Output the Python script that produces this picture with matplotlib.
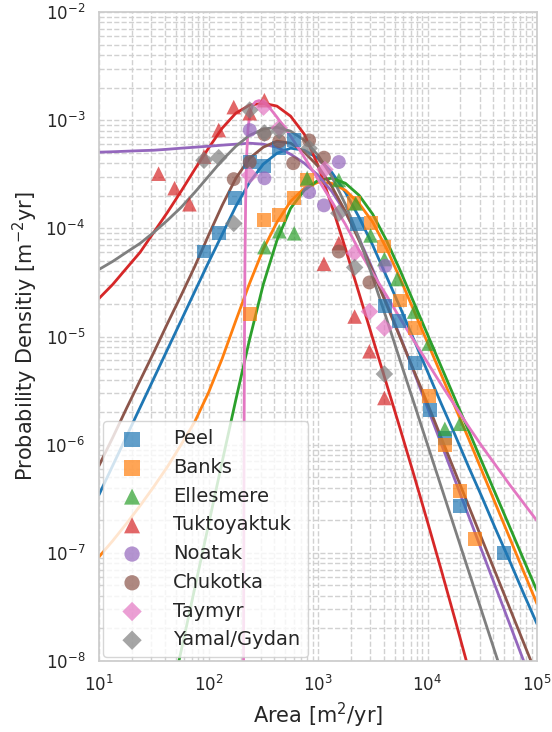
import numpy as np
import matplotlib
matplotlib.use("Agg")
import matplotlib.pyplot as plt
import seaborn as sns

sns.set_style("whitegrid")
plt.rcParams['font.family'] = ['DejaVu Sans']

regions = ["Peel", "Banks", "Ellesmere", "Tuktoyaktuk", "Noatak", "Chukotka", "Taymyr", "Yamal/Gydan"]
markers = ["s", "s", "^", "^", "o", "o", "D", "D"]
colors = ["#1f77b4", "#ff7f0e", "#2ca02c", "#d62728", "#9467bd", "#8c564b", "#e377c2", "#7f7f7f"]
sizes = {"s": 100, "^": 110, "o": 100, "D": 80}

# observed densities: area [m^2/yr], density [m^-2 yr]
peel_area = [91, 124, 174, 238, 324, 443, 600, 2250, 4120, 5520, 7700, 10500, 14400, 19700, 50300]
peel_dens = [6.1e-5, 9.0e-5, 1.9e-4, 4.1e-4, 3.8e-4, 5.5e-4, 6.5e-4, 1.1e-4, 1.9e-5, 1.4e-5,
             5.7e-6, 2.1e-6, 1.16e-6, 2.7e-7, 1.0e-7]
banks_area = [238, 324, 443, 606, 795, 2120, 3020, 4040, 5640, 7700, 10300, 14400, 19700, 26900]
banks_dens = [1.6e-5, 1.19e-4, 1.32e-4, 1.9e-4, 2.8e-4, 1.7e-4, 1.11e-4, 6.8e-5, 2.15e-5,
              1.19e-5, 2.8e-6, 1.0e-6, 3.7e-7, 1.35e-7]
ellesmere_area = [324, 443, 606, 795, 1550, 2210, 3020, 4040, 5290, 7550, 10300, 14400, 19700]
ellesmere_dens = [6.7e-5, 9.4e-5, 9.0e-5, 2.9e-4, 2.8e-4, 1.7e-4, 8.6e-5, 5.2e-5, 3.4e-5,
                  1.7e-5, 8.6e-6, 1.4e-6, 1.56e-6]
tuk_area = [35, 49, 67, 91, 124, 170, 238, 324, 1133, 1550, 2160, 2950, 4040]
tuk_dens = [3.2e-4, 2.35e-4, 1.67e-4, 4.6e-4, 8.1e-4, 1.32e-3, 1.16e-3, 1.53e-3, 4.7e-5,
            7.3e-5, 1.53e-5, 7.3e-6, 2.7e-6]
noatak_area = [238, 324, 830, 1133, 1550, 4120]
noatak_dens = [8.1e-4, 2.9e-4, 2.16e-4, 1.63e-4, 4.1e-4, 4.5e-5]
chukotka_area = [170, 238, 324, 443, 594, 830, 1133, 1550, 2950]
chukotka_dens = [2.85e-4, 4.1e-4, 7.4e-4, 6.4e-4, 4.0e-4, 6.5e-4, 4.5e-4, 6.1e-5, 3.16e-5]
taymyr_area = [238, 318, 443, 1156, 2160, 2950, 4040]
taymyr_dens = [3.1e-4, 1.32e-3, 8.5e-4, 3.5e-4, 5.9e-5, 1.7e-5, 1.2e-5]
yamal_area = [91, 124, 170, 238, 324, 443, 830, 1550, 2160, 4040]
yamal_dens = [4.26e-4, 4.5e-4, 1.11e-4, 1.24e-3, 7.6e-4, 8.0e-4, 5.5e-4, 1.38e-4, 4.35e-5, 4.5e-6]

fit_logA = [1.0, 1.125, 1.25, 1.375, 1.5, 1.625, 1.75, 1.875, 2.0, 2.125, 2.25, 2.375, 2.5,
            2.625, 2.75, 2.875, 3.0, 3.125, 3.25, 3.375, 3.5, 3.625, 3.75, 3.875, 4.0,
            4.125, 4.25, 4.375, 4.5, 4.625, 4.75, 4.875, 5.0]
peel_fit = [-6.463, -6.194, -5.926, -5.657, -5.389, -5.120, -4.852, -4.583, -4.315, -4.056,
            -3.796, -3.574, -3.407, -3.306, -3.259, -3.278, -3.352, -3.481, -3.667, -3.898,
            -4.157, -4.444, -4.731, -5.028, -5.324, -5.620, -5.907, -6.204, -6.491, -6.787,
            -7.074, -7.370, -7.657]
banks_fit = [-7.037, -6.889, -6.731, -6.565, -6.389, -6.204, -6.0, -5.787, -5.519, -5.204,
             -4.852, -4.509, -4.194, -3.944, -3.75, -3.630, -3.574, -3.583, -3.648, -3.769,
             -3.944, -4.185, -4.463, -4.759, -5.056, -5.352, -5.648, -5.944, -6.25, -6.556,
             -6.861, -7.167, -7.472]
ellesmere_fit = [-8.481, -7.907, -7.324, -6.741, -6.157, -5.583, -5.028, -4.519, -4.111,
                 -3.815, -3.648, -3.556, -3.537, -3.583, -3.694, -3.870, -4.111, -4.389,
                 -4.685, -4.981, -5.278, -5.574, -5.870, -6.167, -6.463, -6.759, -7.056, -7.352]
tuk_fit = [-4.648, -4.519, -4.370, -4.222, -4.037, -3.852, -3.657, -3.454, -3.259, -3.074,
           -2.935, -2.861, -2.843, -2.870, -2.963, -3.130, -3.417, -3.787, -4.185, -4.602,
           -5.019, -5.435, -5.852, -6.278, -6.713, -7.157, -7.611, -8.074]
noatak_fit = [-3.296, -3.292, -3.287, -3.282, -3.278, -3.269, -3.259, -3.25, -3.241, -3.231,
              -3.222, -3.213, -3.222, -3.25, -3.315, -3.398, -3.509, -3.657, -3.852, -4.093,
              -4.380, -4.685, -5.0, -5.324, -5.657, -5.991, -6.324, -6.657, -6.991, -7.324,
              -7.657, -7.991, -8.324]
chukotka_fit = [-6.194, -5.935, -5.667, -5.407, -5.148, -4.880, -4.620, -4.352, -4.065, -3.787,
                -3.537, -3.352, -3.25, -3.194, -3.213, -3.296, -3.426, -3.611, -3.843, -4.111,
                -4.398, -4.704, -5.009, -5.315, -5.620, -5.935, -6.250, -6.565, -6.880, -7.194,
                -7.509, -7.824, -8.139]
taymyr_fit_logA = [2.3195, 2.3222, 2.3249, 2.3285, 2.3330, 2.3394, 2.3484, 2.3620, 2.3801,
                   2.4027, 2.4299, 2.4615, 2.4932, 2.5385, 2.625, 2.75, 2.875, 3.0, 3.125,
                   3.25, 3.375, 3.5, 3.625, 3.75, 3.875, 4.0, 4.125, 4.25, 4.375, 4.5,
                   4.625, 4.75, 4.875, 5.0]
taymyr_fit = [-8.370, -7.074, -5.963, -5.037, -4.296, -3.741, -3.324, -3.065, -2.935, -2.861,
              -2.829, -2.819, -2.829, -2.861, -2.972, -3.148, -3.343, -3.546, -3.75, -3.963,
              -4.204, -4.417, -4.620, -4.833, -5.037, -5.241, -5.444, -5.639, -5.833, -6.019,
              -6.194, -6.370, -6.537, -6.704]
yamal_fit = [-4.380, -4.306, -4.222, -4.139, -4.037, -3.926, -3.806, -3.667, -3.519, -3.370,
             -3.241, -3.139, -3.083, -3.065, -3.102, -3.185, -3.324, -3.519, -3.778, -4.093,
             -4.454, -4.833, -5.222, -5.611, -6.0, -6.389, -6.778, -7.167, -7.556, -7.944,
             -8.333]

points = [(peel_area, peel_dens), (banks_area, banks_dens), (ellesmere_area, ellesmere_dens),
          (tuk_area, tuk_dens), (noatak_area, noatak_dens), (chukotka_area, chukotka_dens),
          (taymyr_area, taymyr_dens), (yamal_area, yamal_dens)]
fits = [(fit_logA, peel_fit), (fit_logA, banks_fit), (fit_logA[5:], ellesmere_fit),
        (fit_logA[:28], tuk_fit), (fit_logA, noatak_fit), (fit_logA, chukotka_fit),
        (taymyr_fit_logA, taymyr_fit), (fit_logA[:31], yamal_fit)]

fig = plt.figure(figsize=(5.52, 7.32), dpi=100)
ax = fig.add_axes([99 / 552, 1 - 661 / 732, 438 / 552, 649 / 732])

handles = []
for name, m, c, (a, d), (fx, fy) in zip(regions, markers, colors, points, fits):
    ax.plot(10 ** np.array(fx), 10 ** np.array(fy), color=c, lw=2, zorder=2)
    h = ax.scatter(a, d, marker=m, color=c, s=sizes[m], alpha=0.7,
                   edgecolor="none", zorder=3, label=name)
    handles.append(h)

ax.set_xscale("log")
ax.set_yscale("log")
ax.set_xlim(1e1, 1e5)
ax.set_ylim(1e-8, 1e-2)
ax.grid(True, which="both", ls="--", color=".82", lw=1)
ax.tick_params(axis="both", which="both", length=0, labelsize=12, pad=10)
ax.xaxis.get_offset_text().set_visible(False)
ax.yaxis.get_offset_text().set_visible(False)
for s in ax.spines.values():
    s.set_color(".8")
    s.set_linewidth(1.25)

ax.set_xlabel("Area [m$^2$/yr]", fontsize=15, labelpad=4)
ax.set_ylabel("Probability Densitiy [m$^{-2}$yr]", fontsize=15)
ax.legend(handles=handles, loc="lower left", fontsize=14, borderaxespad=0.2,
          framealpha=0.8, edgecolor=".8", markerscale=1.1,
          handlelength=2.2, handletextpad=1.0)

fig.savefig("out.png", dpi=100)
